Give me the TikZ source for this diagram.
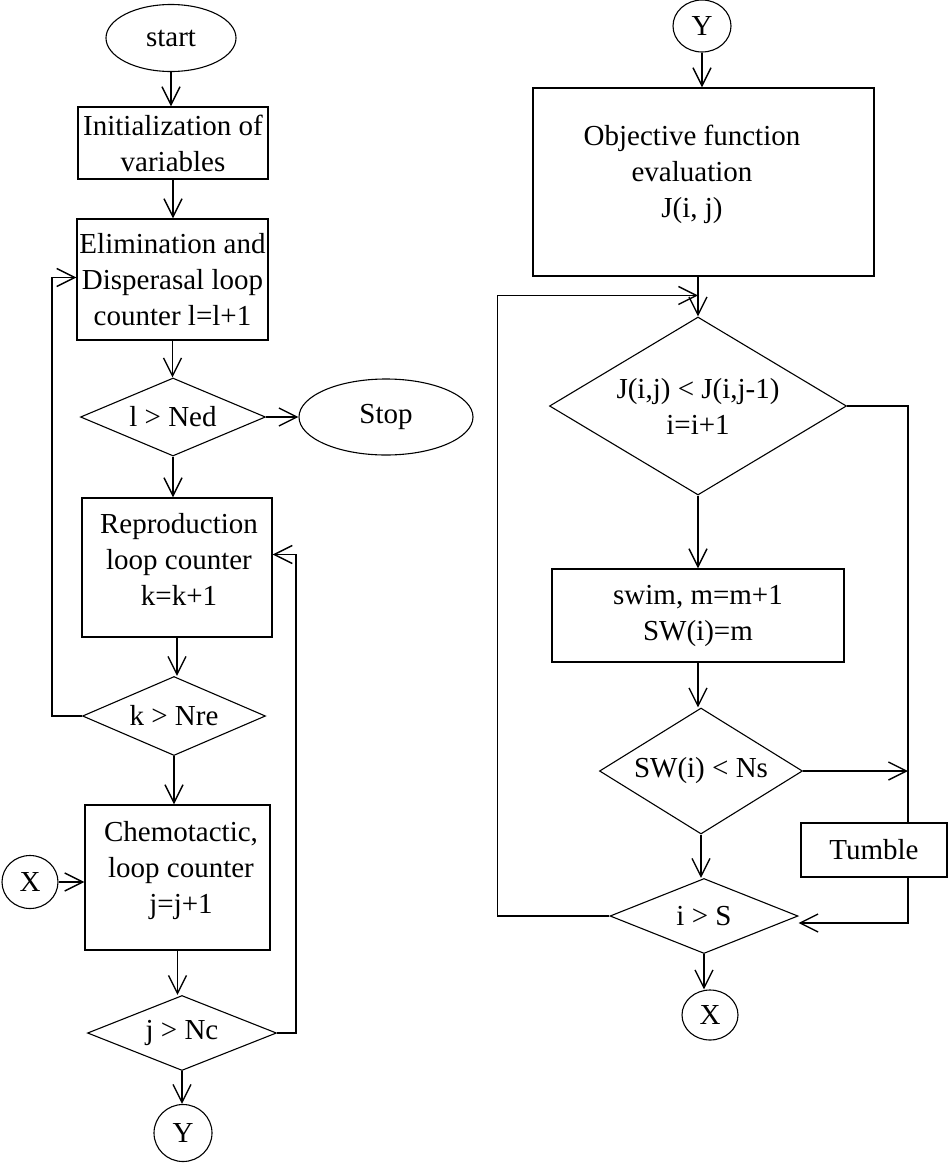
\documentclass[tikz,border=0pt]{standalone}
\usepackage{fontspec}
\setmainfont{Liberation Serif}
\usetikzlibrary{shapes.geometric,arrows.meta}

\begin{document}
\begin{tikzpicture}[x=1pt, y=-1pt,
  every node/.style = {draw, line width=1.4pt, align=center,
    font=\fontsize{29}{36}\selectfont},
  procbox/.style = {rectangle, inner sep=1pt},
  boxtext/.style = {draw=none, inner sep=0pt},
  decision/.style = {diamond, inner sep=0pt, line width=1.1pt, shape aspect=#1},
  terminal/.style = {ellipse, inner sep=0pt, line width=1.1pt},
  flow/.style = {line width=1.4pt, -{Straight Barb[length=18pt,width=18pt]}},
  wire/.style = {line width=1.4pt}]
  \useasboundingbox (0,0) rectangle (950,1165);
  \node[terminal, minimum width=130, minimum height=67] (start) at (171,38) {start};
  \node[procbox, minimum width=190, minimum height=72] (init) at (173,143) {Initialization of\\variables};
  \node[procbox, minimum width=191, minimum height=121] (elim) at (172.5,279.5) {Elimination and\\Disperasal loop\\counter l=l+1};
  \node[decision=2.37, minimum width=185, minimum height=78] (ned) at (173,417) {l > Ned};
  \node[terminal, minimum width=174, minimum height=76] (stop) at (386,417) {Stop};
  \node[procbox, minimum width=190, minimum height=139] (repro) at (177,567.5) {};
  \node[boxtext] (reproText) at (179,559) {Reproduction\\loop counter\\k=k+1};
  \node[decision=2.32, minimum width=183, minimum height=79] (nre) at (174,716) {k > Nre};
  \node[procbox, minimum width=185, minimum height=145] (chemo) at (177.5,877.5) {};
  \node[boxtext] (chemoText) at (181,871) {Chemotactic,\\loop counter\\j=j+1};
  \node[terminal, minimum width=56, minimum height=53] (xl) at (30,882) {X};
  \node[decision=2.52, minimum width=189, minimum height=75] (nc) at (182,1033) {j > Nc};
  \node[terminal, minimum width=58, minimum height=57] (yl) at (183,1133) {Y};

  \node[terminal, minimum width=58, minimum height=52] (yr) at (702,26) {Y};
  \node[procbox, minimum width=341, minimum height=188] (obj) at (703.5,182) {};
  \node[boxtext] (objText) at (692,174) {Objective function\\evaluation\\J(i, j)};
  \node[decision=1.67, minimum width=297, minimum height=178] (jij) at (698,406) {J(i,j) < J(i,j-1)\\i=i+1};
  \node[procbox, minimum width=292, minimum height=93] (swim) at (698,615.5) {swim, m=m+1\\SW(i)=m};
  \node[decision=1.61, minimum width=203, minimum height=126] (ns) at (701,771) {SW(i) < Ns};
  \node[procbox, minimum width=146, minimum height=54] (tumble) at (874,850) {Tumble};
  \node[decision=2.51, minimum width=188, minimum height=75] (is) at (704,916) {i > S};
  \node[terminal, minimum width=56, minimum height=50] (xr) at (710,1015) {X};

  \draw[flow] (start.south) -- (start.south |- init.north);
  \draw[flow] (init.south) -- (init.south |- elim.north);
  \draw[flow] (elim.south) -- (elim.south |- ned.north);
  \draw[flow] (ned.east) -- (stop.west);
  \draw[flow] (ned.south) -- (ned.south |- repro.north);
  \draw[flow] (repro.south) -- (repro.south |- nre.north);
  \draw[flow] (nre.west) -- ++(-30,0) |- ([yshift=2]elim.west);
  \draw[flow] (nre.south) -- (nre.south |- chemo.north);
  \draw[flow] (xl.east) -- (xl.east -| chemo.west);
  \draw[flow] (chemo.south) -- (chemo.south |- nc.north);
  \draw[flow] (nc.east) -- ++(19,0) |- ([yshift=13]repro.east);
  \draw[flow] (nc.south) -- (nc.south |- yl.north);

  \coordinate (merge) at ([yshift=21]jij.north);
  \coordinate (rail) at ([xshift=34]tumble.north);
  \draw[flow] (yr.south) -- (yr.south |- obj.north);
  \draw[flow] (jij.north |- obj.south) -- (jij.north);
  \draw[flow] (is.west) -- ++(-112,0) |- (merge);
  \draw[flow] (jij.south) -- (jij.south |- swim.north);
  \draw[flow] (swim.south) -- (swim.south |- ns.north);
  \draw[flow] (ns.south) -- (ns.south |- is.north);
  \draw[flow] (is.south) -- (is.south |- xr.north);
  \draw[wire] (jij.east) -| (rail);
  \draw[flow] (ns.east) -- (ns.east -| rail);
  \draw[flow] (rail |- tumble.south) |- ([yshift=-7]is.east);
\end{tikzpicture}
\end{document}
